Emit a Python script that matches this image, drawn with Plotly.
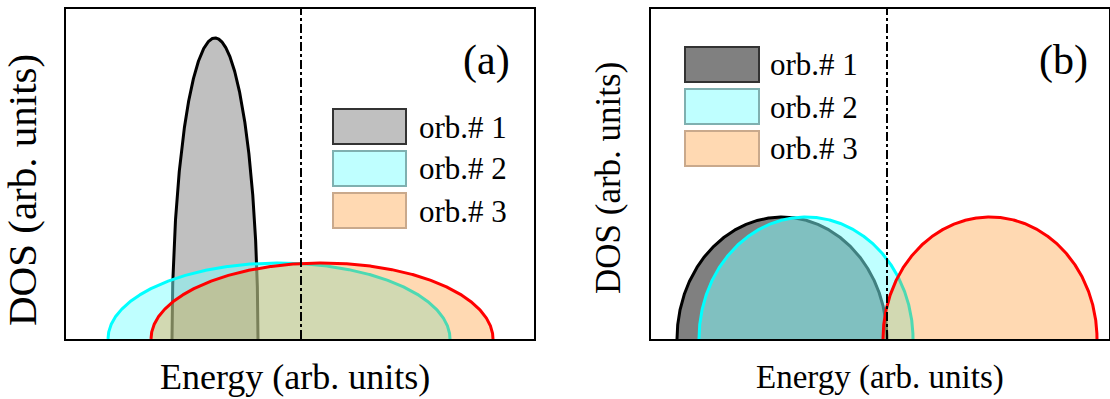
import numpy as np
import plotly.graph_objects as go

W, H = 1110, 399

# ---- data: semi-elliptic bands (center, half-bandwidth, peak DOS) ----
orbitals = ["orb.# 1", "orb.# 2", "orb.# 3"]

a_centers = [-0.86, -0.22, 0.21]
a_halfwidths = [0.43, 1.71, 1.71]
a_peaks = [3.01, 0.76, 0.76]

b_centers = [-1.05, -0.81, 1.03]
b_halfwidths = [1.05, 1.07, 1.07]
b_peaks = [1.22, 1.22, 1.22]

fermi_level = 0.0
a_xrange = [-2.35, 2.33]
b_xrange = [-2.36, 2.22]
dos_range = [0.0, 3.30]

# ---- styles ----
a_fills = ["#c0c0c0", "rgba(128,255,255,0.5)", "rgba(255,128,0,0.30)"]
b_fills = ["#808080", "rgba(128,255,255,0.5)", "rgba(255,128,0,0.30)"]
edge_colors = ["#000000", "#00ffff", "#ff0000"]
key_fills_a = ["#c0c0c0", "#bfffff", "#ffd9b2"]
key_fills_b = ["#808080", "#bfffff", "#ffd9b2"]
key_edges = ["#333333", "#7fb0b0", "#c9a98c"]
FONT = "Liberation Serif"


def band(center, half, peak, n=600):
    t = np.linspace(0.0, np.pi, n)
    return center - half * np.cos(t), peak * np.sin(t)


fig = go.Figure()

for cs, hs, ps, fills, xa, ya in [
    (a_centers, a_halfwidths, a_peaks, a_fills, "x", "y"),
    (b_centers, b_halfwidths, b_peaks, b_fills, "x2", "y2"),
]:
    for c, h, p, fc, lc, name in zip(cs, hs, ps, fills, edge_colors, orbitals):
        x, y = band(c, h, p)
        fig.add_trace(go.Scatter(
            x=x, y=y, mode="lines", fill="toself", fillcolor=fc,
            line=dict(color=lc, width=3), name=name, showlegend=False,
            hoverinfo="skip", xaxis=xa, yaxis=ya,
        ))
    # Fermi level marker
    fig.add_trace(go.Scatter(
        x=[fermi_level, fermi_level], y=dos_range, mode="lines",
        line=dict(color="black", width=2, dash="9px,3px,3px,3px"),
        showlegend=False, hoverinfo="skip", xaxis=xa, yaxis=ya,
    ))

frame = dict(showline=True, mirror=True, linecolor="black", linewidth=2,
             showticklabels=False, ticks="", showgrid=False, zeroline=False,
             fixedrange=True)

ydom = [1 - 339 / H, 1 - 9 / H]
fig.update_layout(
    width=W, height=H, margin=dict(l=0, r=0, t=0, b=0),
    paper_bgcolor="white", plot_bgcolor="white", showlegend=False,
    xaxis=dict(domain=[66 / W, 534 / W], range=a_xrange, anchor="y", **frame),
    yaxis=dict(domain=ydom, range=dos_range, anchor="x", **frame),
    xaxis2=dict(domain=[651 / W, 1109 / W], range=b_xrange, anchor="y2", **frame),
    yaxis2=dict(domain=ydom, range=dos_range, anchor="x2", **frame),
)


def px(xp):
    return xp / W


def py(yp):
    return 1 - yp / H


shapes = []
annotations = []

# keys for each panel
for x0, x1, tops, fills, tx in [
    (333, 406, [109, 151, 193], key_fills_a, 417),
    (685, 759, [47, 89, 131], key_fills_b, 768),
]:
    for top, fc, ec, name in zip(tops, fills, key_edges, orbitals):
        shapes.append(dict(type="rect", xref="paper", yref="paper",
                           x0=px(x0), x1=px(x1), y0=py(top + 35), y1=py(top),
                           fillcolor=fc, line=dict(color=ec, width=2)))
        annotations.append(dict(text=name, xref="paper", yref="paper",
                                x=px(tx), y=py(top + 18), xanchor="left",
                                yanchor="middle", showarrow=False,
                                font=dict(family=FONT, size=31, color="black")))

# panel tags
for tag, xc in [("(a)", 486), ("(b)", 1063)]:
    annotations.append(dict(text=tag, xref="paper", yref="paper",
                            x=px(xc), y=py(61), xanchor="center",
                            yanchor="middle", showarrow=False,
                            font=dict(family=FONT, size=42, color="black")))

# axis titles
for xc, xs in [(295, 36), (880, 33)]:
    annotations.append(dict(text="Energy (arb. units)", xref="paper", yref="paper",
                            x=px(xc), y=py(377), xanchor="center",
                            yanchor="middle", showarrow=False,
                            font=dict(family=FONT, size=xs, color="black")))
for xc, yc, ys in [(22, 190, 41), (608, 178, 35)]:
    annotations.append(dict(text="DOS (arb. units)", xref="paper", yref="paper",
                            x=px(xc), y=py(yc), xanchor="center",
                            yanchor="middle", textangle=-90, showarrow=False,
                            font=dict(family=FONT, size=ys, color="black")))

fig.update_layout(shapes=shapes, annotations=annotations)
fig.write_html("out.html")
